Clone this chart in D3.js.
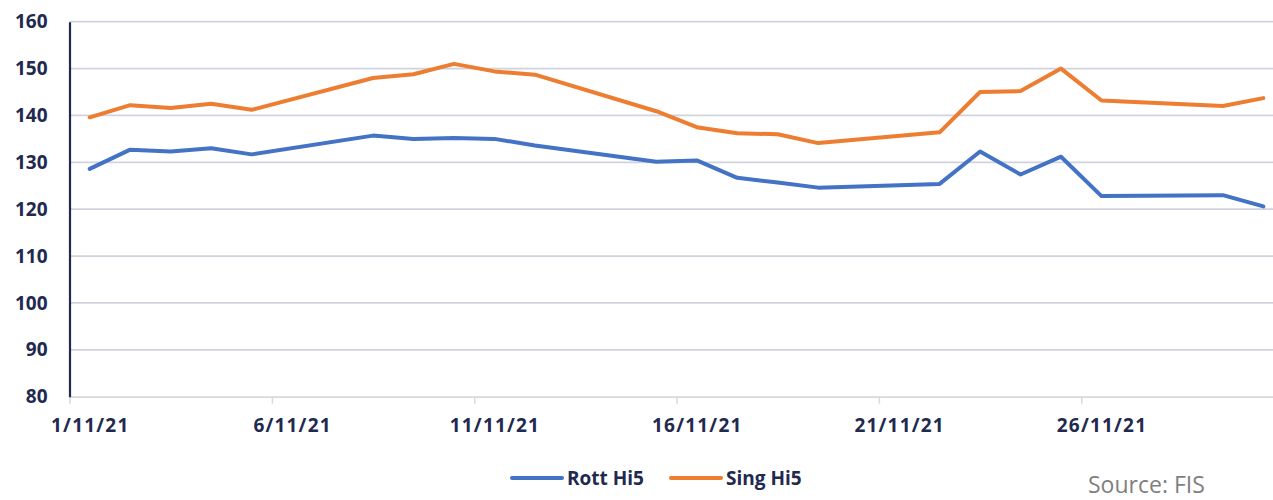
<!DOCTYPE html>
<html>
<head>
<meta charset="utf-8">
<script src="https://cdn.jsdelivr.net/npm/d3@7/dist/d3.min.js"></script>
<style>
  html, body { margin: 0; padding: 0; background: #ffffff; }
  svg { display: block; }
</style>
</head>
<body>
<svg id="chart" width="1273" height="500"></svg>
<script>
// ---- data ----
const dates = [
  "2021-11-01","2021-11-02","2021-11-03","2021-11-04","2021-11-05",
  "2021-11-08","2021-11-09","2021-11-10","2021-11-11","2021-11-12",
  "2021-11-15","2021-11-16","2021-11-17","2021-11-18","2021-11-19",
  "2021-11-22","2021-11-23","2021-11-24","2021-11-25","2021-11-26",
  "2021-11-29","2021-11-30"
];
const rottHi5 = [
  128.6, 132.7, 132.3, 133.0, 131.7,
  135.7, 135.0, 135.2, 135.0, 133.6,
  130.1, 130.4, 126.7, 125.7, 124.6,
  125.4, 132.3, 127.4, 131.2, 122.8,
  123.0, 120.6
];
const singHi5 = [
  139.6, 142.2, 141.6, 142.5, 141.2,
  148.0, 148.8, 151.0, 149.4, 148.7,
  140.9, 137.5, 136.2, 136.0, 134.1,
  136.4, 145.0, 145.2, 150.0, 143.2,
  142.0, 143.7
];
const seriesNames = ["Rott Hi5", "Sing Hi5"];
const seriesColors = ["#4472C4", "#ED7D31"];
const yTicks = [80, 90, 100, 110, 120, 130, 140, 150, 160];
const xLabelDates = ["2021-11-01","2021-11-06","2021-11-11","2021-11-16","2021-11-21","2021-11-26"];
const sourceText = "Source: FIS";

// ---- layout ----
(function () {
const parse = d3.utcParse("%Y-%m-%d");
const DAY = 86400000;
const svg = d3.select("#chart");
const navy = "#22294F";
const mLeft = 69.5, mTop = 21.7, mBottom = 396.7;
const dayW = 40.47;

const d0 = parse("2021-11-01").getTime() - DAY / 2;
const d1 = parse("2021-11-30").getTime() + DAY / 2;
const x = d3.scaleUtc().domain([new Date(d0), new Date(d1)]).range([mLeft, mLeft + 30 * dayW]);
const y = d3.scaleLinear().domain([80, 160]).range([mBottom, mTop]);

// gridlines
svg.append("g")
  .selectAll("line")
  .data(yTicks.filter(v => v > 80))
  .join("line")
  .attr("x1", mLeft).attr("x2", 1273)
  .attr("y1", d => y(d)).attr("y2", d => y(d))
  .attr("stroke", "#D0D3DE").attr("stroke-width", 1.8);

// x axis baseline + ticks at day boundaries
const tickBounds = xLabelDates.map(s => new Date(parse(s).getTime() - DAY / 2));
const xAxisTicks = d3.axisBottom(x).tickValues(tickBounds).tickFormat("").tickSize(7).tickSizeOuter(0);
const gx = svg.append("g").attr("transform", `translate(0,${mBottom})`).call(xAxisTicks);
gx.select(".domain").attr("stroke", "#D9D9D9").attr("stroke-width", 1.8);
gx.selectAll(".tick line").attr("stroke", "#D9D9D9").attr("stroke-width", 1.5);

// x labels centred on the dates
const xAxisLabels = d3.axisBottom(x).tickValues(xLabelDates.map(parse))
  .tickFormat(d3.utcFormat("%-d/%m/%y")).tickSize(0).tickPadding(22);
const gxl = svg.append("g").attr("transform", `translate(0,${mBottom})`).call(xAxisLabels);
gxl.select(".domain").remove();
gxl.selectAll("text")
  .attr("font-family", "'Open Sans', sans-serif").attr("font-weight", 700)
  .attr("font-size", 19).attr("fill", navy).attr("letter-spacing", 1.2);

// y axis
const yAxis = d3.axisLeft(y).tickValues(yTicks).tickSize(0).tickPadding(22);
const gy = svg.append("g").attr("transform", `translate(${mLeft},0)`).call(yAxis);
gy.select(".domain").attr("stroke", navy).attr("stroke-width", 2.2);
gy.selectAll("text")
  .attr("font-family", "'Open Sans', sans-serif").attr("font-weight", 700)
  .attr("font-size", 19).attr("fill", navy);

// lines
const seriesData = [rottHi5, singHi5];
const line = d3.line()
  .x((d, i) => x(parse(dates[i])))
  .y(d => y(d));
svg.append("g")
  .selectAll("path")
  .data(seriesData)
  .join("path")
  .attr("d", d => line(d))
  .attr("fill", "none")
  .attr("stroke", (d, i) => seriesColors[i])
  .attr("stroke-width", 4)
  .attr("stroke-linejoin", "round")
  .attr("stroke-linecap", "round");

// legend
const legendItems = [
  { name: seriesNames[0], color: seriesColors[0], x: 512 },
  { name: seriesNames[1], color: seriesColors[1], x: 671 }
];
const lg = svg.append("g");
legendItems.forEach(it => {
  lg.append("line")
    .attr("x1", it.x).attr("x2", it.x + 50)
    .attr("y1", 478).attr("y2", 478)
    .attr("stroke", it.color).attr("stroke-width", 4).attr("stroke-linecap", "round");
  lg.append("text")
    .attr("x", it.x + 55).attr("y", 478).attr("dy", "0.35em")
    .attr("font-family", "'Open Sans', sans-serif").attr("font-weight", 700)
    .attr("font-size", 19).attr("fill", navy)
    .text(it.name);
});

// source
svg.append("text")
  .attr("x", 1088).attr("y", 493)
  .attr("font-family", "'Open Sans', sans-serif")
  .attr("font-size", 23).attr("fill", "#7F7F7F")
  .text(sourceText);
})();
</script>
</body>
</html>
